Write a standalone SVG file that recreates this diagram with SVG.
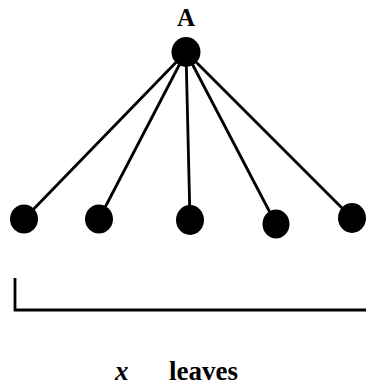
<svg xmlns="http://www.w3.org/2000/svg" width="366" height="388" viewBox="0 0 366 388">
<style>
.n{fill:#000}
.e{stroke:#000;stroke-width:2.8;fill:none}
.t{font-family:"Liberation Serif",serif;font-weight:bold;fill:#000}
</style>
<rect width="366" height="388" fill="#fff"/>
<g id="connectors">
<line class="e" x1="186" y1="52" x2="24" y2="219"/>
<line class="e" x1="186" y1="52" x2="99" y2="219"/>
<line class="e" x1="186" y1="52" x2="190" y2="220"/>
<line class="e" x1="186" y1="52" x2="276" y2="224"/>
<line class="e" x1="186" y1="52" x2="352" y2="218"/>
</g>
<g id="A">
<text class="t" x="186" y="26" font-size="25" text-anchor="middle">A</text>
<ellipse class="n" cx="186" cy="52" rx="14.5" ry="15"/>
</g>
<g id="leaf1"><ellipse class="n" cx="24" cy="219" rx="14" ry="14.5"/></g>
<g id="leaf2"><ellipse class="n" cx="99" cy="219" rx="14" ry="14.5"/></g>
<g id="leaf3"><ellipse class="n" cx="190" cy="220" rx="14" ry="15"/></g>
<g id="leaf4"><ellipse class="n" cx="276" cy="224" rx="13.5" ry="14.5"/></g>
<g id="leaf5"><ellipse class="n" cx="352" cy="218" rx="14" ry="15"/></g>
<g id="bracket">
<path class="e" d="M15,278 V310 H366"/>
</g>
<g id="label">
<text class="t" x="115" y="380" font-size="27" font-style="italic">x</text>
<text class="t" x="169" y="380" font-size="27">leaves</text>
</g>
</svg>
